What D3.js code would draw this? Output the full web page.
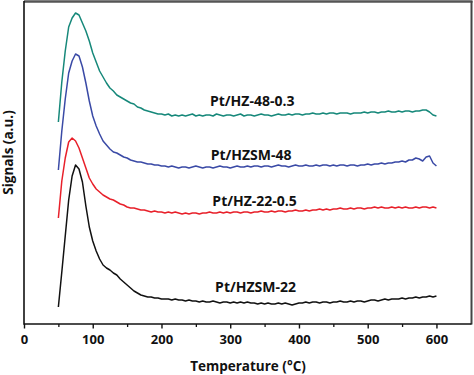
<!DOCTYPE html>
<html>
<head>
<meta charset="utf-8">
<script src="https://cdn.jsdelivr.net/npm/d3@7"></script>
<style>
  html, body { margin: 0; padding: 0; background: #fff; }
  svg { display: block; }
  text { font-family: "Open Sans", "Liberation Sans", sans-serif; font-weight: 700; fill: #111; }
</style>
</head>
<body>
<svg id="chart" width="474" height="375"></svg>
<script>
// ---- data (signal in arbitrary units) ----
const temps = [50,55,60,65,70,75,80,85,90,95,100,105,110,115,120,125,130,135,140,145,150,155,160,165,170,175,180,185,190,195,200,205,210,215,220,225,230,235,240,245,250,255,260,265,270,275,280,285,290,295,300,305,310,315,320,325,330,335,340,345,350,355,360,365,370,375,380,385,390,395,400,405,410,415,420,425,430,435,440,445,450,455,460,465,470,475,480,485,490,495,500,505,510,515,520,525,530,535,540,545,550,555,560,565,570,575,580,585,590,595,600];

const sHZ48_03 = [202,242,273,297,306,311,309,301,293,283,
  271,262,253,247,241,236,233,229,227,225,
  223,221,220,217,216,214,213,212,211,210,
  210,209,210,208,209,208,209,208,209,210,
  208,209,208,209,209,208,210,209,208,209,
  209,208,209,210,208,209,209,208,209,210,
  209,209,208,209,210,209,209,210,209,210,
  210,209,210,210,211,210,210,211,210,211,
  211,210,211,211,211,210,211,211,211,212,
  211,212,212,211,212,212,213,212,212,213,
  212,213,213,212,213,213,214,214,212,209,
  208];

const sHZSM48 = [154,193,225,251,263,270,268,257,241,223,
  208,198,190,183,179,175,172,171,169,167,
  166,164,163,162,162,161,160,160,159,159,
  158,158,157,158,157,156,157,157,156,157,
  158,157,156,157,157,156,157,158,157,157,
  156,157,158,157,157,158,157,158,158,157,
  158,158,157,158,159,158,158,157,158,159,
  158,158,159,158,158,159,158,159,159,158,
  159,158,159,159,158,159,159,158,159,159,
  160,159,160,160,161,160,161,161,162,162,
  163,162,164,164,166,165,163,167,168,161,
  158];

const sHZ22_05 = [106,143,166,182,186,183,176,166,156,146,
  140,135,132,129,127,125,124,122,120,119,
  117,116,116,115,114,114,113,112,113,112,
  112,111,112,111,112,111,110,111,110,111,
  111,110,111,111,112,111,111,112,111,112,
  111,112,112,111,112,112,111,112,112,113,
  112,112,113,112,113,113,112,113,113,114,
  113,113,114,113,114,114,115,114,115,114,
  115,115,116,115,115,116,115,116,116,115,
  116,116,117,116,117,116,116,117,116,117,
  116,117,116,116,117,116,117,117,116,117,
  116];

const sHZSM22 = [17,52,88,124,148,159,155,142,118,97,
  83,73,65,59,56,54,51,49,45,42,
  39,36,33,31,29,28,27,27,26,26,
  25,25,25,24,25,24,24,23,24,23,
  23,22,23,22,22,23,22,21,22,22,
  21,22,21,22,21,22,21,21,20,21,
  20,21,20,20,21,20,21,20,19,20,
  21,21,22,21,22,22,21,22,22,21,
  22,22,23,22,22,23,22,23,23,22,
  23,24,24,23,24,25,24,25,25,25,
  26,25,26,26,27,26,27,27,28,27,
  28];

const seriesNames = ["Pt/HZSM-22", "Pt/HZ-22-0.5", "Pt/HZSM-48", "Pt/HZ-48-0.3"];
const xTicks = [0, 100, 200, 300, 400, 500, 600];
const xMinorTicks = [50, 150, 250, 350, 450, 550];

// ---- layout ----
const svg = d3.select("#chart");
const x = d3.scaleLinear().domain([0, 651]).range([24, 471.5]);
const y = d3.scaleLinear().domain([0, 322]).range([324, 2]);

const series = [
  { name: seriesNames[0], values: sHZSM22, color: "#111111" },
  { name: seriesNames[1], values: sHZ22_05, color: "#e8202a" },
  { name: seriesNames[2], values: sHZSM48, color: "#3a4aa6" },
  { name: seriesNames[3], values: sHZ48_03, color: "#16887a" }
];

const line = d3.line()
  .x((d, i) => x(temps[i]))
  .y(d => y(d));

svg.append("g").selectAll("path")
  .data(series)
  .join("path")
  .attr("d", s => line(s.values))
  .attr("fill", "none")
  .attr("stroke", s => s.color)
  .attr("stroke-width", 1.5)
  .attr("stroke-linejoin", "round");

// frame: top & right (gray), left & bottom axes (black)
svg.append("line").attr("x1", 24).attr("x2", 472.5).attr("y1", 1.5).attr("y2", 1.5)
  .attr("stroke", "#555").attr("stroke-width", 2.5);
svg.append("line").attr("x1", 471.5).attr("x2", 471.5).attr("y1", 1).attr("y2", 324.5)
  .attr("stroke", "#444").attr("stroke-width", 2);

// bottom axis
const xAxis = d3.axisBottom(x).tickValues(xTicks).tickSize(4.5).tickPadding(6).tickFormat(d3.format("d"));
const gx = svg.append("g").attr("transform", "translate(0,324)").call(xAxis);
gx.select(".domain").attr("stroke", "#111").attr("stroke-width", 1.6).attr("d", "M24,0H471.5");
gx.selectAll(".tick line").attr("stroke", "#111").attr("stroke-width", 1.4);
gx.selectAll(".tick text").attr("font-size", 13).attr("font-family", "'Open Sans', sans-serif")
  .attr("font-weight", 700).attr("fill", "#111");

const xMinor = d3.axisBottom(x).tickValues(xMinorTicks).tickSize(3).tickFormat("");
const gxm = svg.append("g").attr("transform", "translate(0,324)").call(xMinor);
gxm.select(".domain").remove();
gxm.selectAll(".tick line").attr("stroke", "#111").attr("stroke-width", 1.3);

// left axis line (no ticks)
svg.append("line").attr("x1", 24).attr("x2", 24).attr("y1", 1).attr("y2", 324.8)
  .attr("stroke", "#111").attr("stroke-width", 1.6);

// axis titles
svg.append("text").attr("x", 248).attr("y", 371).attr("text-anchor", "middle")
  .attr("font-size", 13.5)
  .text("Temperature (°C)");

svg.append("text")
  .attr("transform", "translate(12.5,152.5) rotate(-90)")
  .attr("text-anchor", "middle")
  .attr("font-size", 13.5)
  .text("Signals (a.u.)");

// series labels (anchored in data coordinates)
const labelPos = [
  { t: 278, v: 32.5 },
  { t: 274, v: 118 },
  { t: 271.5, v: 164 },
  { t: 270.5, v: 218 }
];
svg.append("g").selectAll("text")
  .data(series)
  .join("text")
  .attr("x", (s, i) => x(labelPos[i].t))
  .attr("y", (s, i) => y(labelPos[i].v))
  .attr("font-size", 14)
  .text(s => s.name);
</script>
</body>
</html>
